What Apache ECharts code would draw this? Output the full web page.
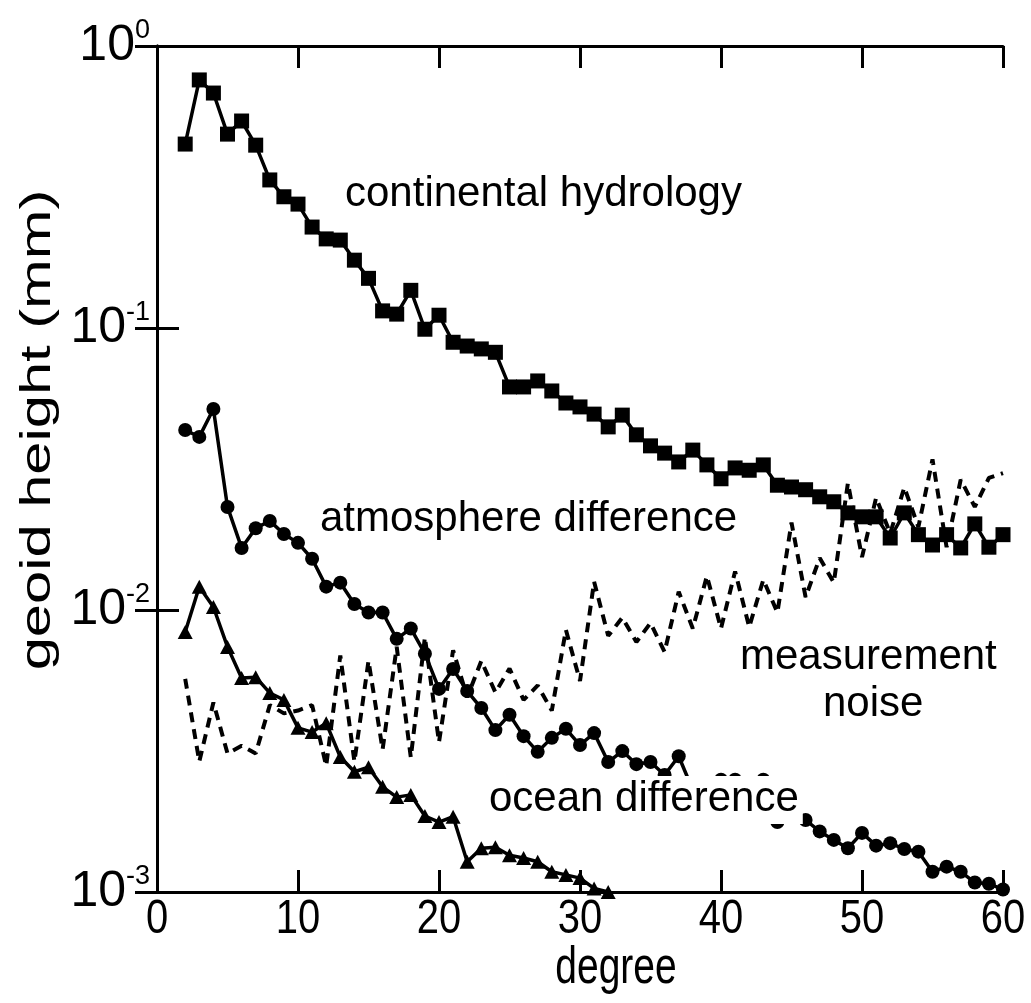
<!DOCTYPE html>
<html>
<head>
<meta charset="utf-8">
<script src="https://cdn.jsdelivr.net/npm/echarts@6/dist/echarts.min.js"></script>
<style>
html,body{margin:0;padding:0;background:#fff;}
#c{width:1031px;height:1003px;}
</style>
</head>
<body>
<div id="c"></div>
<script>
const degrees = [2,3,4,5,6,7,8,9,10,11,12,13,14,15,16,17,18,19,20,21,22,23,24,25,26,27,28,29,30,31,32,33,34,35,36,37,38,39,40,41,42,43,44,45,46,47,48,49,50,51,52,53,54,55,56,57,58,59,60];
const hydrology = [0.449,0.758,0.681,0.487,0.542,0.445,0.335,0.292,0.275,0.228,0.207,0.205,0.174,0.150,0.115,0.112,0.136,0.099,0.111,0.089,0.0863,0.0843,0.082,0.0618,0.0618,0.0649,0.0598,0.0542,0.0525,0.0495,0.0446,0.0491,0.0418,0.0382,0.0360,0.0335,0.0369,0.0327,0.0292,0.0319,0.0313,0.0327,0.0277,0.0273,0.0267,0.0252,0.0242,0.0221,0.0214,0.0214,0.0180,0.0221,0.0185,0.0170,0.0185,0.0166,0.0202,0.0167,0.0185];
const atmosphere = [0.0435,0.0411,0.0516,0.0232,0.0166,0.0195,0.0207,0.0186,0.0173,0.0152,0.0121,0.0125,0.0105,0.0098,0.0098,0.0079,0.0086,0.0070,0.00525,0.00618,0.00516,0.00449,0.00375,0.00425,0.00357,0.00314,0.00352,0.00379,0.00332,0.00366,0.00289,0.00316,0.00284,0.00289,0.0026,0.00303,0.0023,0.00236,0.0025,0.0025,0.0023,0.0025,0.00177,0.0020,0.0018,0.00164,0.00153,0.00143,0.00162,0.00146,0.00149,0.00142,0.00139,0.00118,0.00123,0.00118,0.00108,0.00107,0.00102];
const ocean = [0.00836,0.0121,0.01025,0.0074,0.00574,0.00578,0.00508,0.0048,0.00382,0.00369,0.00397,0.00301,0.00267,0.00277,0.00236,0.00217,0.00221,0.00186,0.00177,0.00185,0.00128,0.00143,0.00144,0.00135,0.00132,0.00128,0.00118,0.00115,0.00112,0.00103,0.001];
const noise = [0.0057,0.0029,0.0047,0.0031,0.0033,0.0031,0.0046,0.0043,0.0044,0.0046,0.0028,0.0069,0.0029,0.0066,0.0032,0.0074,0.0030,0.0080,0.0034,0.0072,0.0049,0.0066,0.0051,0.0062,0.0048,0.0054,0.0044,0.0085,0.0056,0.0126,0.0081,0.0094,0.0077,0.0090,0.0071,0.0116,0.0086,0.0132,0.0086,0.0137,0.0087,0.0128,0.0098,0.0204,0.0111,0.0153,0.0125,0.0282,0.0154,0.0250,0.0187,0.0272,0.0197,0.0342,0.0167,0.0290,0.0232,0.0294,0.0306];
const xTicks = [0,10,20,30,40,50,60];
const yTicks = [1,0.1,0.01,0.001];
const labels = {
  xTitle: 'degree',
  yTitle: 'geoid height (mm)',
  hydro: 'continental hydrology',
  atmo: 'atmosphere difference',
  noise1: 'measurement',
  noise2: 'noise',
  ocean: 'ocean difference'
};

function pairs(ys){ return ys.map((v,i)=>[degrees[i], v]); }

const FONT = '"Liberation Sans", Arial, Helvetica, sans-serif';
const chart = echarts.init(document.getElementById('c'), null, {renderer:'canvas'});

const axisLineStyle = {show:true, lineStyle:{color:'#000', width:3}};
const tickStyle = {show:true, inside:true, length:22, lineStyle:{color:'#000', width:3}};

const lineBase = {type:'line', smooth:false, animation:false,
  lineStyle:{color:'#000', width:3.5}, itemStyle:{color:'#000'}, z:3};

chart.setOption({
  backgroundColor:'#fff',
  animation:false,
  grid:{left:157, right:28, top:46, bottom:111, containLabel:false},
  xAxis:[{
    type:'value', min:xTicks[0], max:xTicks[xTicks.length-1], interval:10, position:'bottom',
    axisLine:axisLineStyle, axisTick:tickStyle, splitLine:{show:false},
    axisLabel:{show:false}
  },{
    type:'value', min:xTicks[0], max:xTicks[xTicks.length-1], interval:10, position:'top',
    axisLine:axisLineStyle, axisTick:tickStyle, splitLine:{show:false}, axisLabel:{show:false}
  }],
  yAxis:[{
    type:'log', logBase:10, min:yTicks[3], max:yTicks[0], position:'left',
    axisLine:axisLineStyle, axisTick:tickStyle, splitLine:{show:false}, minorTick:{show:false},
    axisLabel:{
      margin:7,
      formatter:function(v){ const e = Math.round(Math.log10(v)); return '{b|10}{s|' + (e===0?'0':String(e)) + '}'; },
      rich:{
        b:{fontSize:50, fontFamily:FONT, color:'#000', lineHeight:58},
        s:{fontSize:27, fontFamily:FONT, color:'#000', verticalAlign:'top', lineHeight:14}
      }
    }
  },{
    type:'log', logBase:10, min:yTicks[3], max:yTicks[0], position:'right',
    axisLine:axisLineStyle, axisTick:tickStyle, splitLine:{show:false}, axisLabel:{show:false}
  }],
  series:[
    Object.assign({}, lineBase, {name:'continental hydrology', data:pairs(hydrology), symbol:'rect', symbolSize:15}),
    Object.assign({}, lineBase, {name:'atmosphere difference', data:pairs(atmosphere), symbol:'circle', symbolSize:14}),
    Object.assign({}, lineBase, {name:'ocean difference', data:pairs(ocean), symbol:'triangle', symbolSize:[15,14]}),
    Object.assign({}, lineBase, {name:'measurement noise', data:pairs(noise), symbol:'none', lineStyle:{color:'#000', width:4, type:[10,7]}})
  ]
});

// x tick labels placed through the x axis scale (tall, condensed look of the original)
const axisY = chart.convertToPixel({yAxisIndex:0}, yTicks[3]);
const graphics = xTicks.map(v => ({
  type:'text', x: chart.convertToPixel({xAxisIndex:0}, v), y: axisY + 28, scaleY:1.22, z:100,
  style:{text:String(v), font:'40px '+FONT, fill:'#000', textAlign:'center', textVerticalAlign:'middle', align:'center', verticalAlign:'middle'}
}));
graphics.push(
  {type:'text', x:38, y:430, rotation:Math.PI/2, scaleX:1.42, z:100,
    style:{text:labels.yTitle, font:'42px '+FONT, fill:'#000', textAlign:'center', textVerticalAlign:'middle', align:'center', verticalAlign:'middle'}},
  {type:'text', x:616, y:969, scaleY:1.33, z:100,
    style:{text:labels.xTitle, font:'39px '+FONT, fill:'#000', textAlign:'center', textVerticalAlign:'middle', align:'center', verticalAlign:'middle'}},
  {type:'text', left:345, top:173, z:100, style:{text:labels.hydro, font:'42px '+FONT, fill:'#000'}},
  {type:'text', left:320, top:498, z:100, style:{text:labels.atmo, font:'42px '+FONT, fill:'#000'}},
  {type:'text', left:740, top:636, z:100, style:{text:labels.noise1, font:'42px '+FONT, fill:'#000'}},
  {type:'text', left:823, top:683, z:100, style:{text:labels.noise2, font:'42px '+FONT, fill:'#000'}},
  {type:'text', left:487, top:776, z:100, style:{text:labels.ocean, font:'42px '+FONT, fill:'#000', backgroundColor:'#fff', padding:[2,4,4,2]}}
);
chart.setOption({graphic: graphics});
</script>
</body>
</html>
